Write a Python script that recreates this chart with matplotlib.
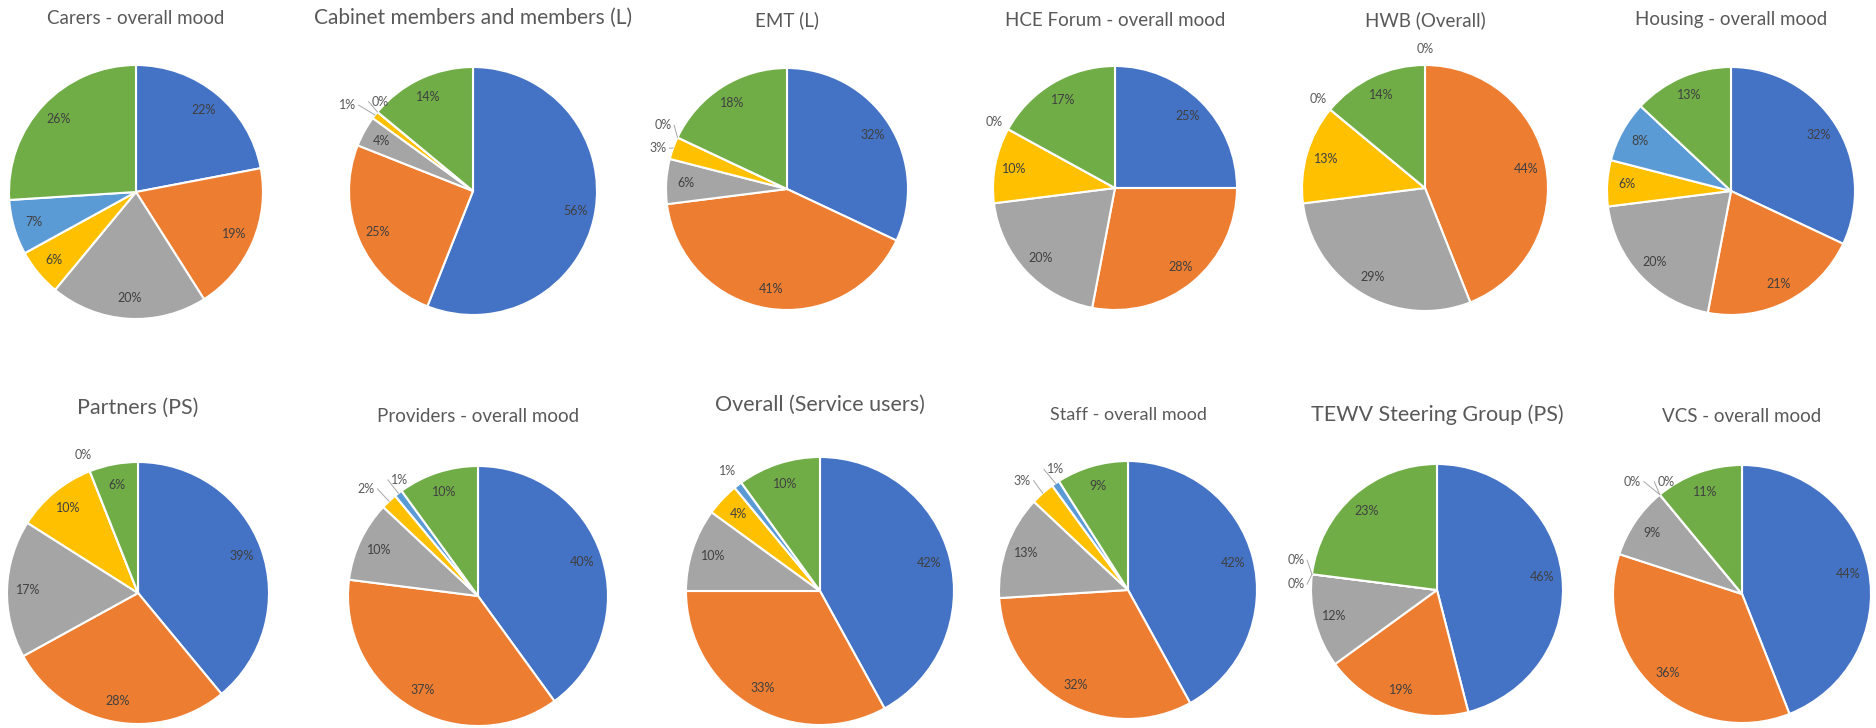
import numpy as np
import matplotlib.pyplot as plt

# slice order (clockwise from 12 o'clock) for every chart
colors = ["#4472C4", "#ED7D31", "#A5A5A5", "#FFC000", "#5B9BD5", "#70AD47"]

titles = [
    "Carers - overall mood", "Cabinet members and members (L)", "EMT (L)",
    "HCE Forum - overall mood", "HWB (Overall)", "Housing - overall mood",
    "Partners (PS)", "Providers - overall mood", "Overall (Service users)",
    "Staff - overall mood", "TEWV Steering Group (PS)", "VCS - overall mood",
]

carers = [22, 19, 20, 6, 7, 26]
cabinet = [56, 25, 4, 1, 0, 14]
emt = [32, 41, 6, 3, 0, 18]
hce_forum = [25, 28, 20, 10, 0, 17]
hwb = [0, 44, 29, 13, 0, 14]
housing = [32, 21, 20, 6, 8, 13]
partners = [39, 28, 17, 10, 0, 6]
providers = [40, 37, 10, 2, 1, 10]
service_users = [42, 33, 10, 4, 1, 10]
staff = [42, 32, 13, 3, 1, 9]
tewv = [46, 19, 12, 0, 0, 23]
vcs = [44, 36, 9, 0, 0, 11]

series = [carers, cabinet, emt, hce_forum, hwb, housing,
          partners, providers, service_users, staff, tewv, vcs]

# pixel layout: pie centre x, centre y, radius, title y, title size
layout = [
    (136, 192, 127, 18, 13.5), (473, 191, 124, 18, 15.0), (787, 189, 121, 20, 13.5),
    (1115, 188, 122, 20, 13.5), (1425, 188, 123, 20, 13.5), (1731, 191, 124, 20, 13.5),
    (138, 593, 131, 408, 15.5), (478, 596, 130, 417, 13.5), (820, 591, 134, 405, 15.5),
    (1128, 590, 129, 415, 13.0), (1437, 590, 126, 415, 15.5), (1742, 594, 129, 417, 13.5),
]

W, H = 1876, 728
FONT = "Lato"
INSIDE_MIN = 4  # smaller slices get their label outside the pie

fig = plt.figure(figsize=(W / 100, H / 100), dpi=100)
fig.patch.set_facecolor("white")

for title, vals, (cx, cy, r, ty, tsize) in zip(titles, series, layout):
    h = 1.5 * r
    ax = fig.add_axes([(cx - h) / W, 1 - (cy + h) / H, 2 * h / W, 2 * h / H])
    ax.pie(vals, colors=colors, startangle=90, counterclock=False, radius=1.0,
           wedgeprops=dict(edgecolor="white", linewidth=1.5))
    ax.set_xlim(-1.5, 1.5)
    ax.set_ylim(-1.5, 1.5)
    ax.set_aspect("equal")
    ax.axis("off")

    total = float(sum(vals))
    cum = 0.0
    outside = []  # [x, y, theta, value, pushed]
    for v in vals:
        theta = np.deg2rad(90 - 360 * (cum + v / 2) / total)
        cum += v
        if v >= INSIDE_MIN:
            ax.text(0.84 * np.cos(theta), 0.84 * np.sin(theta), f"{v}%",
                    ha="center", va="center", fontsize=9, color="#404040",
                    family=FONT)
            continue
        x, y = 1.13 * np.cos(theta), 1.13 * np.sin(theta)
        pushed = False
        if outside:
            prev = outside[-1]
            if abs(x - prev[0]) < 0.22 and abs(y - prev[1]) < 0.14:
                pushed = True
                prev[4] = True
                if abs(np.sin(theta)) > 0.6:
                    # near the top: spread the two labels sideways
                    gap = (0.26 - abs(x - prev[0])) / 2
                    prev[0] -= gap
                    x += gap
                else:
                    gap = (0.19 - abs(y - prev[1])) / 2
                    prev[1] -= gap
                    y += gap
        outside.append([x, y, theta, v, pushed])

    for x, y, theta, v, pushed in outside:
        if pushed:
            ex, ey = np.cos(theta), np.sin(theta)
            ax.plot([ex, x + 0.09 * np.sign(ex - x)], [ey, y],
                    color="#A6A6A6", linewidth=0.7)
        ax.text(x, y, f"{v}%", ha="center", va="center", fontsize=9,
                color="#595959", family=FONT)

    fig.text(cx / W, 1 - ty / H, title, ha="center", va="center",
             fontsize=tsize, color="#595959", family=FONT)

plt.savefig("out.png", dpi=100, facecolor="white")
plt.close()
